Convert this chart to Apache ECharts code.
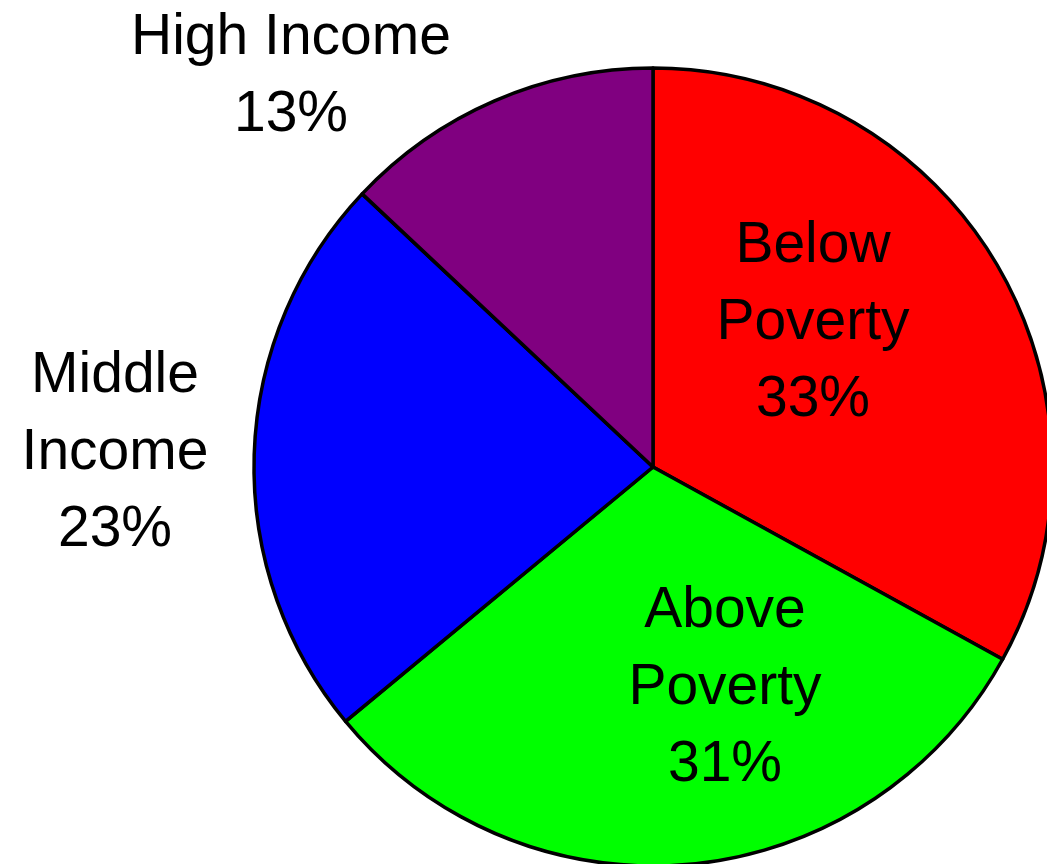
<!DOCTYPE html>
<html>
<head>
<meta charset="utf-8">
<style>html,body{margin:0;padding:0;background:#fff;}#main{width:1047px;height:864px;}</style>
<script src="https://cdn.jsdelivr.net/npm/echarts@6/dist/echarts.min.js"></script>
</head>
<body>
<div id="main"></div>
<script>
const categories = ['Below\nPoverty', 'Above\nPoverty', 'Middle\nIncome', 'High Income'];
const values = [33, 31, 23, 13];
const colors = ['#ff0000', '#00ff00', '#0000ff', '#800080'];

const labelSpots = [[813, 323], [725, 688], [115, 453], [291, 77]];

const chart = echarts.init(document.getElementById('main'), null, {renderer: 'canvas'});
chart.setOption({
  animation: false,
  series: [{
    type: 'pie',
    center: [653, 467],
    radius: [0, 399],
    startAngle: 90,
    clockwise: true,
    silent: true,
    data: categories.map((c, i) => ({
      name: c,
      value: values[i],
      itemStyle: {color: colors[i]}
    })),
    itemStyle: {borderColor: '#000', borderWidth: 3.5},
    label: {
      show: true,
      position: 'inside',
      formatter: p => p.name + '\n' + p.value + '%',
      color: '#000',
      fontFamily: 'Liberation Sans, Arial, sans-serif',
      fontSize: 57,
      lineHeight: 77,
      align: 'center'
    },
    labelLine: {show: false},
    labelLayout: function (params) {
      const s = labelSpots[params.dataIndex];
      return {x: s[0], y: s[1], align: 'center', verticalAlign: 'middle'};
    }
  }]
});
</script>
</body>
</html>
